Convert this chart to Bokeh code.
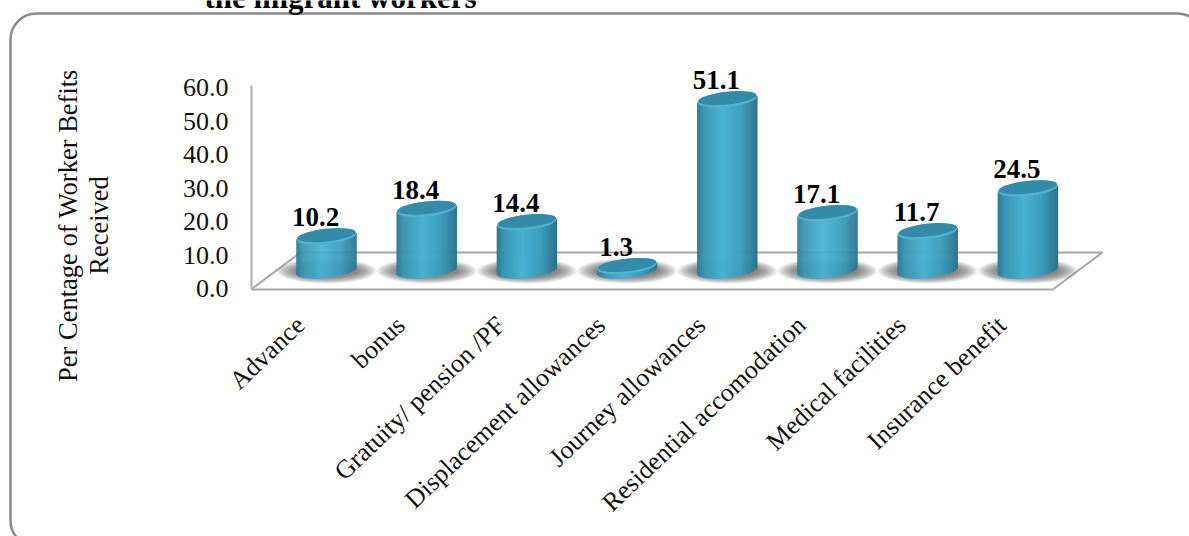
import math
from bokeh.embed import file_html
from bokeh.models import BoxAnnotation, FixedTicker, LinearAxis, Range1d
from bokeh.plotting import figure
from bokeh.resources import INLINE

categories = ["Advance", "bonus", "Gratuity/ pension /PF", "Displacement allowances",
              "Journey allowances", "Residential accomodation", "Medical facilities",
              "Insurance benefit"]
values = [10.2, 18.4, 14.4, 1.3, 51.1, 17.1, 11.7, 24.5]
y_ticks = [0, 10, 20, 30, 40, 50, 60]
title_text = "the migrant workers"
y_title = ["Per Centage of Worker Befits", "Received"]

W, H = 1189, 536
AXIS_X = 251          # pixel column of the value axis
FRONT_Y = 288.5       # pixel row of the floor's front edge
PX_X = 100.2          # pixels per category
PX_Y = 3.35           # pixels per percentage point
X0 = 326              # pixel column of the first category
Y0 = 288              # pixel row of zero
LABEL_SHIFT = 26      # category labels end left of their cylinder
SERIF = "Liberation Serif"
FONT = {"value": SERIF}


def dx(px):
    return px / PX_X


def dy(px):
    return px / PX_Y


def col(px):
    return (px - X0) / PX_X


def row(px):
    return (Y0 - px) / PX_Y


def mix(a, b, t):
    return "#" + "".join(f"{round(x + (y - x) * t):02x}" for x, y in zip(a, b))


SHADE = [(-1.0, (0x2f, 0x7a, 0x96)), (-0.75, (0x3a, 0x96, 0xb4)), (-0.15, (0x47, 0xb1, 0xd1)),
         (0.45, (0x3c, 0x9e, 0xbe)), (0.85, (0x2f, 0x80, 0x9c)), (1.0, (0x2a, 0x72, 0x8c))]


def shade(t):
    for (t0, c0), (t1, c1) in zip(SHADE, SHADE[1:]):
        if t <= t1:
            return mix(c0, c1, (t - t0) / (t1 - t0))
    return mix(SHADE[-1][1], SHADE[-1][1], 0)


p = figure(width=W, height=H, output_backend="svg", toolbar_location=None,
           x_range=Range1d(col(0), col(W)), y_range=Range1d(row(H), row(0)),
           x_axis_location=None, y_axis_location=None,
           min_border_left=0, min_border_right=0, min_border_top=0, min_border_bottom=0)
p.grid.visible = False
p.outline_line_color = None
p.background_fill_color = "white"

# Rounded panel behind the chart; it runs past the right and bottom of the page
p.add_layout(BoxAnnotation(left=col(10), right=col(1203), bottom=row(546), top=row(13),
                           fill_alpha=0, line_color="#8a8a8a", line_alpha=1, line_width=2.5,
                           border_radius=26, level="underlay"))

# Value axis
ya = LinearAxis(ticker=FixedTicker(ticks=y_ticks), bounds=(-0.2, 60.6),
                fixed_location=col(AXIS_X),
                major_tick_line_color=None, minor_tick_line_color=None,
                axis_line_color="#b0b0b0", axis_line_width=2,
                major_label_text_font=SERIF, major_label_text_font_size="26px",
                major_label_text_color="#111111", major_label_standoff=17)
ya.major_label_overrides = {t: f"{t:.1f}" for t in y_ticks}
p.add_layout(ya, "left")

# Category axis, on a range shifted so the slanted labels end left of each cylinder
p.extra_x_ranges["labels"] = Range1d(col(0) + dx(LABEL_SHIFT), col(W) + dx(LABEL_SHIFT))
xa = LinearAxis(x_range_name="labels", ticker=FixedTicker(ticks=list(range(len(categories)))),
                bounds=(col(AXIS_X) + dx(LABEL_SHIFT), col(1053) + dx(LABEL_SHIFT)),
                fixed_location=row(FRONT_Y),
                major_tick_line_color=None, minor_tick_line_color=None,
                axis_line_color="#a8a8a8", axis_line_width=2,
                major_label_text_font=SERIF, major_label_text_font_size="26px",
                major_label_text_color="#111111", major_label_orientation=0.76,
                major_label_standoff=26)
xa.major_label_overrides = {i: c for i, c in enumerate(categories)}
p.add_layout(xa, "below")

# Floor of the 3D plot area
floor = "#a8a8a8"
p.line([col(AXIS_X), col(300), col(1102), col(1053)],
       [row(FRONT_Y), row(252), row(252), row(FRONT_Y)], line_color=floor, line_width=2)

BASE = dy(18)         # cylinders stand behind the front edge of the floor
HALF_W = 30           # cylinder half width, px
HALF_H = 7.5          # half height of the end ellipses, px
TILT = 0.11           # rise of the ellipses across the width
xs = list(range(len(values)))

# Soft shadows on the floor
for k in range(14):
    p.ellipse(xs, [BASE - dy(0.5)] * len(xs), width=100 - 3 * k, height=25 - 1 * k,
              width_units="screen", height_units="screen",
              fill_color="#4a4a4a", fill_alpha=0.075, line_color=None)

# Cylinder sides, built as narrow vertical strips to carry the horizontal shading
sx, stop, sbot, scol = [], [], [], []
STRIP = 1.0
for i, v in enumerate(values):
    n = int(2 * HALF_W / STRIP)
    for k in range(n):
        off = -HALF_W + (k + 0.5) * STRIP
        t = off / HALF_W
        arc = HALF_H * math.sqrt(max(0.0, 1 - t * t))
        sx.append(i + dx(off))
        stop.append(v + BASE + dy(off * TILT))
        sbot.append(BASE + dy(off * TILT - arc))
        scol.append(shade(t))
p.vbar(x=sx, top=stop, bottom=sbot, width=dx(STRIP * 1.5), fill_color=scol, line_color=None)

# Cylinder caps: a light rim under a darker lid
tops = [v + BASE for v in values]
angle = math.atan(TILT)
p.ellipse(xs, tops, width=2 * HALF_W, height=2 * HALF_H, angle=angle,
          width_units="screen", height_units="screen",
          fill_color="#4fb3d1", line_color=None)
p.ellipse(xs, [t + dy(1.2) for t in tops], width=2 * HALF_W - 1.5, height=2 * HALF_H - 2.4, angle=angle,
          width_units="screen", height_units="screen",
          fill_color="#338ba9", line_color=None)

# Value labels
p.text(xs, tops, text=[f"{v:.1f}" for v in values], x_offset=-11, y_offset=-19,
       text_align="center", text_baseline="middle", text_font_style="bold",
       text_font=FONT, text_font_size="27px", text_color="black")

# Two-line axis title
p.text([col(67), col(98)], [row(225)] * 2, text=y_title, angle=math.pi / 2,
       text_align="center", text_baseline="middle",
       text_font=FONT, text_font_size="26.5px", text_color="#111111")

# Heading, cut by the top of the page
p.text([col(204)], [row(7)], text=[title_text], y_offset=-10, text_align="left",
       text_baseline="alphabetic", text_font=FONT, text_font_style="bold",
       text_font_size="31px", text_color="black")

open("out.html", "w").write(file_html(p, INLINE))
